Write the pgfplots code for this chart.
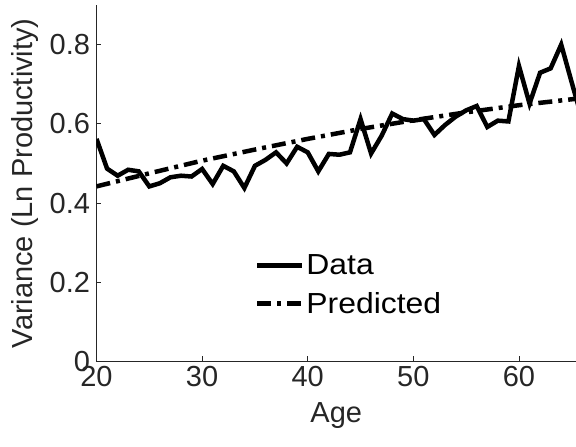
\documentclass[border=0pt]{standalone}
\usepackage{pgfplots}
\pgfplotsset{compat=1.18}
\usepackage{fontspec}
\setmainfont{Liberation Sans}
\newfontfamily\legfont{Liberation Sans}[FakeStretch=1.1]
\usetikzlibrary{calc}
\definecolor{axgray}{HTML}{262626}

\pgfplotstableread{
age var
20 0.562
21 0.487
22 0.469
23 0.484
24 0.480
25 0.442
26 0.450
27 0.465
28 0.469
29 0.467
30 0.486
31 0.448
32 0.494
33 0.480
34 0.438
35 0.494
36 0.509
37 0.528
38 0.500
39 0.542
40 0.528
41 0.480
42 0.524
43 0.522
44 0.528
45 0.612
46 0.525
47 0.570
48 0.626
49 0.612
50 0.608
51 0.612
52 0.572
53 0.597
54 0.618
55 0.634
56 0.645
57 0.592
58 0.608
59 0.606
60 0.746
61 0.651
62 0.729
63 0.740
64 0.800
65 0.704
66 0.610
}\datatab

\pgfplotstableread{
age pred
20 0.442
25 0.475
30 0.507
35 0.535
40 0.562
45 0.587
50 0.609
55 0.629
60 0.647
65 0.662
66 0.665
}\predtab

\begin{document}
\begin{tikzpicture}
\begin{axis}[
    scale only axis,
    width=479.5pt, height=356.5pt,
    xmin=20, xmax=65.4,
    ymin=0, ymax=0.9,
    axis x line*=bottom,
    axis y line*=left,
    axis line style={axgray, line width=0.8pt},
    xtick={20,30,40,50,60},
    ytick={0,0.2,0.4,0.6,0.8},
    yticklabels={0,0.2,0.4,0.6,0.8},
    tick style={axgray, line width=0.8pt},
    major tick length=5pt,
    tick align=inside,
    ticklabel style={font=\fontsize{29}{34}\selectfont, text=axgray},
    /pgf/number format/assume math mode=true,
    xticklabel style={yshift=-1pt},
    yticklabel style={xshift=-3pt},
    xlabel={Age},
    ylabel={Variance (Ln Productivity)},
    label style={font=\fontsize{29}{34}\selectfont, text=axgray},
    xlabel style={yshift=-9pt},
    ylabel style={yshift=4pt},
    legend style={draw=none, fill=none, at={(0.33,0.305)}, anchor=north west,
        font=\legfont\fontsize{29}{34}\selectfont, text=black, inner sep=0pt,
        row sep=12pt},
    legend cell align=left,
    legend image code/.code={\draw[#1] (0pt,0pt) -- (45pt,0pt);},
]
\addplot[black, line width=4.5pt, line join=miter] table[x=age, y=var] {\datatab};
\addlegendentry{Data}
\addplot[black, line width=4.5pt, dash pattern=on 14pt off 6pt on 4pt off 6pt] table[x=age, y=pred] {\predtab};
\addlegendentry{Predicted}
\end{axis}
\pgfresetboundingbox
\path ($(current axis.south west)+(-96.5pt,-85.5pt)$) rectangle ($(current axis.north east)+(0pt,5pt)$);
\end{tikzpicture}
\end{document}
